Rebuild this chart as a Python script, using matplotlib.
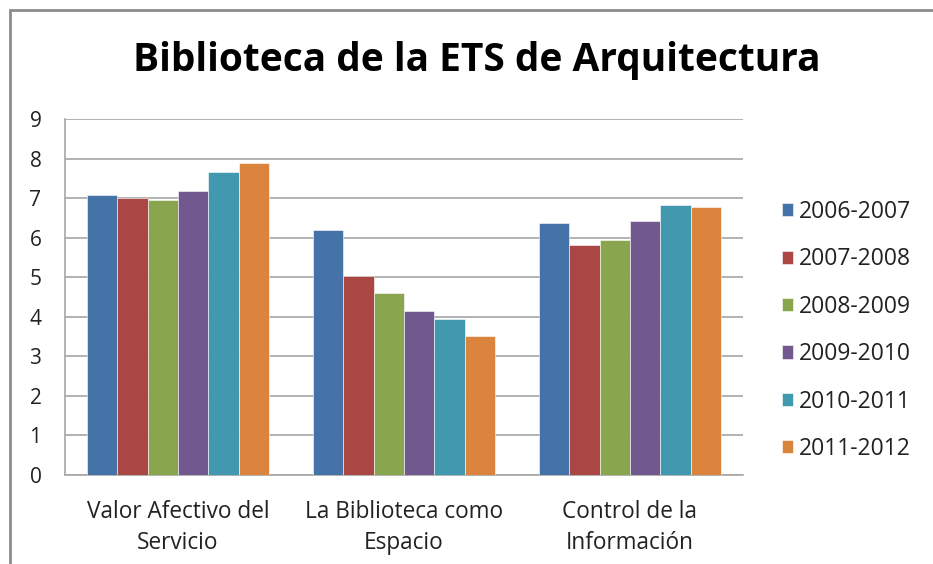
import matplotlib
matplotlib.use("Agg")
import matplotlib.pyplot as plt
from matplotlib.patches import Rectangle
import numpy as np

categories = ["Valor Afectivo del\nServicio", "La Biblioteca como\nEspacio", "Control de la\nInformación"]
series_names = ["2006-2007", "2007-2008", "2008-2009", "2009-2010", "2010-2011", "2011-2012"]
v2006 = [7.08, 6.20, 6.37]
v2007 = [7.01, 5.04, 5.82]
v2008 = [6.96, 4.59, 5.95]
v2009 = [7.19, 4.14, 6.41]
v2010 = [7.67, 3.95, 6.83]
v2011 = [7.90, 3.52, 6.77]
series_values = [v2006, v2007, v2008, v2009, v2010, v2011]
colors = ["#4572A7", "#AA4643", "#89A54E", "#71588F", "#4198AF", "#DB843D"]
yticks = [0, 1, 2, 3, 4, 5, 6, 7, 8, 9]

plt.rcParams['font.family'] = ['Open Sans', 'DejaVu Sans']

W, H = 933, 564
fig = plt.figure(figsize=(W / 100, H / 100), dpi=100)
ax = fig.add_axes([65 / W, 1 - 475 / H, (743 - 65) / W, (475 - 119) / H])

x = np.arange(len(categories))
n = len(series_values)
bw = 0.134
for i, (name, vals, c) in enumerate(zip(series_names, series_values, colors)):
    ax.bar(x + (i - (n - 1) / 2) * bw, vals, bw, color=c, label=name,
           edgecolor='white', linewidth=0.4, zorder=3)

ax.set_xlim(-0.5, len(categories) - 0.5)
ax.set_ylim(0, 9)
ax.set_yticks(yticks)
ax.set_yticklabels([str(t) for t in yticks], fontsize=15, color='#222222')
ax.set_xticks(x)
ax.set_xticklabels(categories, fontsize=16.3, color='#222222', linespacing=1.4)
ax.tick_params(axis='y', length=0, pad=17)
ax.tick_params(axis='x', length=0, pad=18)
ax.grid(axis='y', color='#A6A6A6', linewidth=1.2, zorder=0)
for s in ['top', 'right']:
    ax.spines[s].set_visible(False)
ax.spines['left'].set_color('#A6A6A6')
ax.spines['bottom'].set_color('#A6A6A6')
ax.spines['left'].set_linewidth(1.2)
ax.spines['bottom'].set_linewidth(1.2)

fig.text(477 / W, 1 - 60 / H, "Biblioteca de la ETS de Arquitectura",
         ha='center', va='center', fontsize=28, fontweight='bold', color='black')

leg = fig.legend(loc='upper left', bbox_to_anchor=(782 / W, 1 - 200 / H),
                 frameon=False, fontsize=16.5, handlelength=0.5, handleheight=0.5,
                 handletextpad=0.25, labelspacing=1.02, borderaxespad=0, borderpad=0)
for t in leg.get_texts():
    t.set_color('#222222')

fig.patches.append(Rectangle((10 / W, -0.05), 1.1, 1 - 10 / H + 0.05,
                             transform=fig.transFigure, fill=False,
                             edgecolor='#8C8C8C', linewidth=2, figure=fig))

fig.savefig("out.png", dpi=100)
